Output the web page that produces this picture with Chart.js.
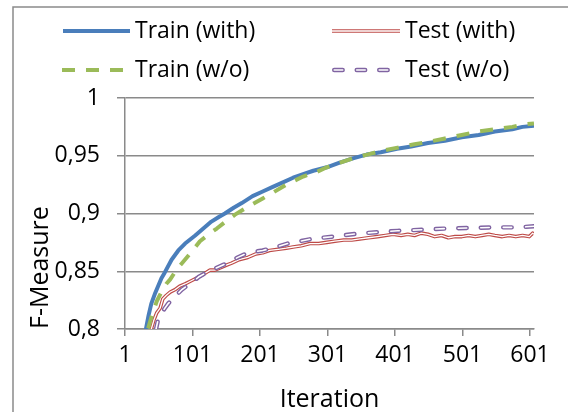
<!DOCTYPE html>
<html>
<head>
<meta charset="utf-8">
<script src="https://cdn.jsdelivr.net/npm/chart.js@4"></script>
<style>
html, body { margin: 0; padding: 0; background: #fff; }
#wrap { position: relative; width: 568px; height: 412px; }
</style>
</head>
<body>
<div id="wrap"><canvas id="c" width="568" height="412"></canvas></div>
<script>
// ---- Data ----
const seriesNames = ['Train (with)', 'Test (with)', 'Train (w/o)', 'Test (w/o)'];

const trainWithIter = [26, 32, 36, 40, 45, 50, 55, 60, 70, 80, 90, 105, 117, 129, 140, 149, 162, 174, 190, 205, 220, 235, 250, 265, 280, 300, 319, 340, 359, 380, 404, 425, 450, 475, 500, 525, 549, 575, 590, 607];
const trainWithVal  = [0.78, 0.800, 0.812, 0.822, 0.830, 0.837, 0.844, 0.849, 0.860, 0.868, 0.874, 0.881, 0.887, 0.893, 0.897, 0.900, 0.905, 0.909, 0.915, 0.919, 0.923, 0.927, 0.931, 0.934, 0.937, 0.940, 0.944, 0.948, 0.951, 0.953, 0.956, 0.958, 0.961, 0.963, 0.966, 0.968, 0.971, 0.973, 0.975, 0.976];

const testWithIter = [33, 40, 44, 48, 53, 57, 62, 68, 75, 82, 90, 100, 110, 119, 127, 134, 142, 150, 159, 170, 183, 195, 205, 215, 228, 240, 250, 262, 275, 288, 300, 312, 325, 337, 349, 362, 375, 387, 398, 410, 420, 430, 440, 450, 460, 470, 480, 490, 500, 510, 520, 530, 540, 549, 560, 570, 580, 590, 600, 605, 607];
const testWithVal  = [0.78, 0.800, 0.808, 0.814, 0.818, 0.826, 0.829, 0.832, 0.834, 0.837, 0.839, 0.842, 0.845, 0.848, 0.851, 0.851, 0.853, 0.855, 0.857, 0.860, 0.862, 0.865, 0.866, 0.868, 0.869, 0.870, 0.871, 0.872, 0.874, 0.874, 0.875, 0.876, 0.877, 0.877, 0.878, 0.879, 0.880, 0.881, 0.882, 0.881, 0.882, 0.881, 0.883, 0.882, 0.880, 0.881, 0.879, 0.880, 0.880, 0.881, 0.880, 0.881, 0.882, 0.881, 0.880, 0.881, 0.880, 0.881, 0.880, 0.883, 0.882];

const trainWoIter = [30, 35, 40, 44, 48, 55, 62, 68, 78, 87, 100, 112, 125, 137, 150, 164, 178, 193, 205, 220, 240, 265, 285, 300, 320, 340, 360, 380, 405, 430, 450, 475, 500, 525, 550, 575, 590, 607];
const trainWoVal  = [0.78, 0.800, 0.810, 0.817, 0.824, 0.832, 0.839, 0.843, 0.852, 0.858, 0.867, 0.876, 0.882, 0.887, 0.893, 0.899, 0.904, 0.909, 0.913, 0.918, 0.925, 0.932, 0.936, 0.940, 0.944, 0.948, 0.951, 0.954, 0.957, 0.960, 0.962, 0.965, 0.968, 0.971, 0.973, 0.975, 0.977, 0.978];

const testWoIter = [40, 47, 50, 55, 60, 65, 75, 85, 92, 100, 110, 122, 137, 152, 168, 183, 205, 225, 242, 260, 278, 309, 345, 379, 405, 443, 478, 515, 549, 584, 607];
const testWoVal  = [0.78, 0.800, 0.808, 0.813, 0.818, 0.822, 0.828, 0.834, 0.837, 0.840, 0.845, 0.849, 0.853, 0.857, 0.862, 0.866, 0.868, 0.871, 0.874, 0.876, 0.878, 0.880, 0.8825, 0.884, 0.885, 0.886, 0.887, 0.8875, 0.888, 0.888, 0.889];

const xTickValues = [1, 101, 201, 301, 401, 501, 601];
const xTickLabels = ['1', '101', '201', '301', '401', '501', '601'];
const yTickValues = [0.8, 0.85, 0.9, 0.95, 1];
const yTickLabels = ['0,8', '0,85', '0,9', '0,95', '1'];
const xTitle = 'Iteration';
const yTitle = 'F-Measure';

// ---- helpers ----
const pts = (xs, ys) => xs.map((x, i) => ({ x: x, y: ys[i] }));
const BLUE = '#4a7ebb', RED = '#be4b48', GREEN = '#9bbb59', PURPLE = '#8064a2', GRID = '#8a8a8a';
const FONT = "'Open Sans', sans-serif";

Chart.defaults.font.family = FONT;
Chart.defaults.color = '#000';

const datasets = [
  { label: seriesNames[0], data: pts(trainWithIter, trainWithVal), borderColor: BLUE, borderWidth: 4, order: 6 },
  { label: seriesNames[1], data: pts(testWithIter, testWithVal), borderColor: RED, borderWidth: 3.6, order: 5 },
  { label: seriesNames[1] + ' core', data: pts(testWithIter, testWithVal), borderColor: '#ffffff', borderWidth: 1.3, order: 4 },
  { label: seriesNames[2], data: pts(trainWoIter, trainWoVal), borderColor: GREEN, borderWidth: 4, borderDash: [13, 11], order: 3 },
  { label: seriesNames[3], data: pts(testWoIter, testWoVal), borderColor: PURPLE, borderWidth: 4.4, borderDash: [8.5, 14], borderCapStyle: 'round', order: 2 },
  { label: seriesNames[3] + ' core', data: pts(testWoIter, testWoVal), borderColor: '#ffffff', borderWidth: 1.6, borderDash: [8.5, 14], borderCapStyle: 'round', order: 1 }
];
datasets.forEach(d => { d.pointRadius = 0; d.tension = 0; d.fill = false; d.borderJoinStyle = 'round'; });

// legend layout
const legendEntries = [
  { ds: 0, core: null, x0: 63, x1: 130, tx: 135, y: 31 },
  { ds: 1, core: 2,    x0: 332, x1: 400, tx: 405, y: 31 },
  { ds: 3, core: null, x0: 62, x1: 130, tx: 135, y: 70 },
  { ds: 4, core: 5,    x0: 332, x1: 400, tx: 405, y: 70 }
];

const framePlugin = {
  id: 'frame',
  beforeDraw(chart) {
    const ctx = chart.ctx;
    ctx.save();
    ctx.fillStyle = '#fff';
    ctx.fillRect(0, 0, chart.width, chart.height);
    ctx.strokeStyle = '#8a8a8a';
    ctx.lineWidth = 1.5;
    ctx.strokeRect(13, 7, 700, 600);
    ctx.restore();
  }
};

function strokeSample(ctx, d, x0, x1, y) {
  ctx.save();
  ctx.strokeStyle = d.borderColor;
  ctx.lineWidth = d.borderWidth;
  ctx.lineCap = d.borderCapStyle || 'butt';
  ctx.setLineDash(d.borderDash || []);
  ctx.beginPath();
  ctx.moveTo(x0, y);
  ctx.lineTo(x1, y);
  ctx.stroke();
  ctx.restore();
}

const legendPlugin = {
  id: 'excelLegend',
  afterDraw(chart) {
    const ctx = chart.ctx;
    const ds = chart.data.datasets;
    legendEntries.forEach(e => {
      const d = ds[e.ds];
      const capPad = d.borderCapStyle === 'round' ? d.borderWidth / 2 : 0;
      strokeSample(ctx, d, e.x0 + capPad, e.x1, e.y);
      if (e.core !== null) strokeSample(ctx, ds[e.core], e.x0 + capPad, e.x1, e.y);
      ctx.save();
      ctx.fillStyle = '#000';
      ctx.font = "23px " + FONT;
      ctx.textAlign = 'left';
      ctx.textBaseline = 'middle';
      ctx.fillText(d.label, e.tx, e.y);
      ctx.restore();
    });
  }
};

new Chart(document.getElementById('c'), {
  type: 'line',
  data: { datasets: datasets },
  plugins: [framePlugin, legendPlugin],
  options: {
    responsive: false,
    animation: false,
    layout: { padding: { top: 98, right: 34, bottom: 0, left: 0 } },
    plugins: { legend: { display: false }, tooltip: { enabled: false } },
    scales: {
      x: {
        type: 'linear',
        min: 1,
        max: 607,
        afterBuildTicks: s => { s.ticks = xTickValues.map(v => ({ value: v })); },
        afterFit: s => { s.height = 83; },
        ticks: { callback: (v, i) => xTickLabels[i], font: { size: 23 }, padding: 6, maxRotation: 0, autoSkip: false },
        grid: { drawOnChartArea: false, drawTicks: true, tickLength: 7, color: GRID, lineWidth: 1.5 },
        border: { display: true, color: GRID, width: 1.5 },
        title: { display: true, text: xTitle, font: { size: 25, lineHeight: 1 }, padding: { top: 0, bottom: 0 } }
      },
      y: {
        type: 'linear',
        min: 0.8,
        max: 1,
        afterBuildTicks: s => { s.ticks = yTickValues.map(v => ({ value: v })); },
        afterFit: s => { s.width = 125; },
        ticks: { callback: (v, i) => yTickLabels[i], font: { size: 23 }, padding: 17 },
        grid: { drawTicks: true, tickLength: 8, color: GRID, lineWidth: 1.5 },
        border: { display: true, color: GRID, width: 1.5 },
        title: { display: true, text: yTitle, align: 'start', font: { size: 25, lineHeight: 1 }, padding: { top: 28, bottom: 0 } }
      }
    }
  }
});
</script>
</body>
</html>
